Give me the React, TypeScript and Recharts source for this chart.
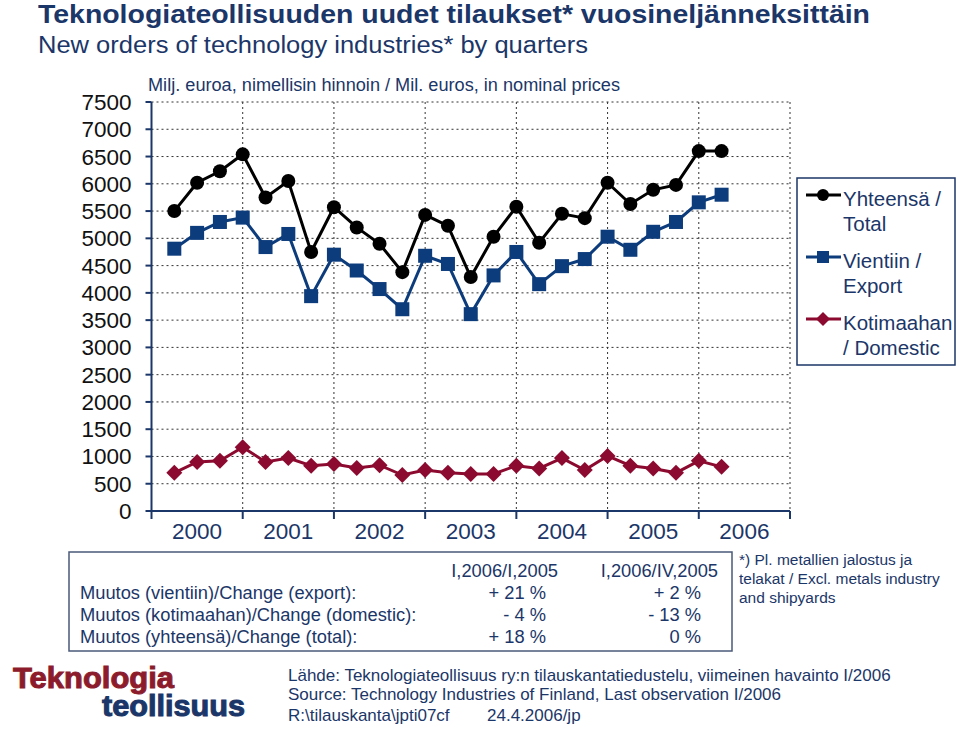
import { LineChart, Line, XAxis, YAxis, CartesianGrid } from "recharts";

// 2000 Q1 ... 2006 Q1
const quarters = [
    "2000/I", "2000/II", "2000/III", "2000/IV",
    "2001/I", "2001/II", "2001/III", "2001/IV",
    "2002/I", "2002/II", "2002/III", "2002/IV",
    "2003/I", "2003/II", "2003/III", "2003/IV",
    "2004/I", "2004/II", "2004/III", "2004/IV",
    "2005/I", "2005/II", "2005/III", "2005/IV",
    "2006/I",
];
const total = [5500, 6020, 6230, 6540, 5750, 6050, 4750, 5570, 5200, 4900, 4380, 5430, 5230, 4290, 5030, 5580, 4920, 5450, 5370, 6020, 5630, 5890, 5980, 6600, 6600];
const exportOrders = [4810, 5100, 5300, 5380, 4840, 5080, 3940, 4700, 4410, 4070, 3700, 4680, 4530, 3610, 4320, 4750, 4160, 4490, 4620, 5030, 4790, 5120, 5300, 5660, 5800];
const domestic = [700, 900, 920, 1170, 900, 970, 830, 860, 790, 840, 660, 750, 700, 680, 680, 830, 780, 970, 750, 1010, 830, 780, 700, 920, 810];

const years = ["2000", "2001", "2002", "2003", "2004", "2005", "2006"];
const yTicks = [0, 500, 1000, 1500, 2000, 2500, 3000, 3500, 4000, 4500, 5000, 5500, 6000, 6500, 7000, 7500];

const legendLabels = [
    ["Yhteensä /", "Total"],
    ["Vientiin /", "Export"],
    ["Kotimaahan", "/ Domestic"],
];
const tableHead = ["I,2006/I,2005", "I,2006/IV,2005"];
const tableRows = [
    "Muutos (vientiin)/Change (export):",
    "Muutos (kotimaahan)/Change (domestic):",
    "Muutos (yhteensä)/Change (total):",
];
const changeYoY = ["+ 21 %", "- 4 %", "+ 18 %"];
const changeQoQ = ["+ 2 %", "- 13 %", "0 %"];

const NAVY = "#1b3668";
const BLUE = "#0d3c7c";
const RED = "#8c0a2f";
const FONT = "'Liberation Sans', Arial, sans-serif";

// x = quarter number counted from start of 2000 (point sits at end of its quarter)
const data = quarters.map((q, i) => ({
    q,
    x: i + 1,
    total: total[i],
    vienti: exportOrders[i],
    koti: domestic[i],
}));

const YEAR_PX = (790 - 151.5) / 7;

function circleDot(p: any) {
    return <circle key={p.index} cx={p.cx} cy={p.cy} r={7} fill="#000" />;
}
function squareDot(p: any) {
    return <rect key={p.index} x={p.cx - 7} y={p.cy - 7} width={14} height={14} fill={BLUE} />;
}
function diamondDot(p: any) {
    const s = 8;
    return (
        <polygon
            key={p.index}
            points={`${p.cx},${p.cy - s} ${p.cx + s},${p.cy} ${p.cx},${p.cy + s} ${p.cx - s},${p.cy}`}
            fill={RED}
        />
    );
}

function YearTick(props: any) {
    const { x, y, payload } = props;
    const idx = payload.value / 4;
    if (idx >= years.length) return null;
    return (
        <text x={x + YEAR_PX / 2} y={y + 18} textAnchor="middle" fontSize={22.5} fill={NAVY} fontFamily={FONT}>
            {years[idx]}
        </text>
    );
}

function LegendMark({ i, y }: any) {
    const colors = ["#000", BLUE, RED];
    const c = colors[i];
    return (
        <g>
            <line x1={806} x2={841} y1={y} y2={y} stroke={c} strokeWidth={3} />
            {i === 0 && <circle cx={823} cy={y} r={6} fill={c} />}
            {i === 1 && <rect x={817} y={y - 6} width={12} height={12} fill={c} />}
            {i === 2 && <polygon points={`823,${y - 7} 830,${y} 823,${y + 7} 816,${y}`} fill={c} />}
        </g>
    );
}

export default function App() {
    return (
        <div style={{ position: "absolute", left: 0, top: 0, width: 960, height: 729, background: "#fff", fontFamily: FONT }}>
            <LineChart
                width={960}
                height={729}
                data={data}
                margin={{ top: 102, right: 170, bottom: 188, left: 81.5 }}
            >
                <CartesianGrid stroke="#333" strokeDasharray="2 3" />
                <XAxis
                    type="number"
                    dataKey="x"
                    domain={[0, 28]}
                    ticks={[0, 4, 8, 12, 16, 20, 24, 28]}
                    interval={0}
                    height={30}
                    tickSize={8}
                    axisLine={{ stroke: NAVY, strokeWidth: 2 }}
                    tickLine={{ stroke: NAVY, strokeWidth: 2 }}
                    tick={<YearTick />}
                />
                <YAxis
                    type="number"
                    domain={[0, 7500]}
                    ticks={yTicks}
                    interval={0}
                    width={70}
                    tickSize={6}
                    tickMargin={14}
                    axisLine={{ stroke: NAVY, strokeWidth: 2 }}
                    tickLine={{ stroke: NAVY, strokeWidth: 2 }}
                    tick={{ fontSize: 22.5, fill: "#111", fontFamily: FONT }}
                />
                <Line dataKey="koti" stroke={RED} strokeWidth={3} dot={diamondDot} isAnimationActive={false} />
                <Line dataKey="vienti" stroke={BLUE} strokeWidth={3} dot={squareDot} isAnimationActive={false} />
                <Line dataKey="total" stroke="#000" strokeWidth={3} dot={circleDot} isAnimationActive={false} />
            </LineChart>

            <svg width={960} height={729} style={{ position: "absolute", left: 0, top: 0, pointerEvents: "none" }} fontFamily={FONT}>
                <text x={38} y={23} fontSize={26.5} fontWeight="bold" fill={NAVY} textLength={832} lengthAdjust="spacingAndGlyphs">
                    Teknologiateollisuuden uudet tilaukset* vuosineljänneksittäin
                </text>
                <text x={38} y={53} fontSize={23} fill={NAVY} textLength={550} lengthAdjust="spacingAndGlyphs">
                    New orders of technology industries* by quarters
                </text>
                <text x={148} y={91} fontSize={17.5} fill={NAVY} textLength={472} lengthAdjust="spacingAndGlyphs">
                    Milj. euroa, nimellisin hinnoin / Mil. euros, in nominal prices
                </text>

                {/* legend */}
                <rect x={797} y={178} width={158} height={187} fill="#fff" stroke={NAVY} strokeWidth={1.5} />
                {legendLabels.map((lines, i) => (
                    <g key={i}>
                        <LegendMark i={i} y={195 + i * 62} />
                        <text x={843} y={206 + i * 62} fontSize={20.5} fill={NAVY}>{lines[0]}</text>
                        <text x={843} y={231 + i * 62} fontSize={20.5} fill={NAVY}>{lines[1]}</text>
                    </g>
                ))}

                {/* change table */}
                <rect x={69} y={552} width={663} height={99} fill="none" stroke="#4a5a78" strokeWidth={1.5} />
                <text x={558} y={577} fontSize={18.3} fill={NAVY} textAnchor="end">{tableHead[0]}</text>
                <text x={718} y={577} fontSize={18.3} fill={NAVY} textAnchor="end">{tableHead[1]}</text>
                {tableRows.map((r, i) => (
                    <g key={r}>
                        <text x={80} y={599 + i * 22} fontSize={18.3} fill={NAVY}>{r}</text>
                        <text x={546} y={599 + i * 22} fontSize={18.3} fill={NAVY} textAnchor="end">{changeYoY[i]}</text>
                        <text x={701} y={599 + i * 22} fontSize={18.3} fill={NAVY} textAnchor="end">{changeQoQ[i]}</text>
                    </g>
                ))}

                {/* footnote */}
                <text fontSize={15.5} fill={NAVY}>
                    <tspan x={739} y={565}>*) Pl. metallien jalostus ja</tspan>
                    <tspan x={739} y={584}>telakat / Excl. metals industry</tspan>
                    <tspan x={739} y={603}>and shipyards</tspan>
                </text>

                {/* logo */}
                <text x={13} y={688} fontSize={29} fontWeight="bold" fill="#8c1c2c" stroke="#8c1c2c" strokeWidth={1} textLength={161} lengthAdjust="spacingAndGlyphs">Teknologia</text>
                <text x={102} y={716} fontSize={29} fontWeight="bold" fill={NAVY} stroke={NAVY} strokeWidth={1} textLength={143} lengthAdjust="spacingAndGlyphs">teollisuus</text>

                {/* source */}
                <text fontSize={17} fill={NAVY}>
                    <tspan x={288} y={681}>Lähde:  Teknologiateollisuus ry:n tilauskantatiedustelu, viimeinen havainto I/2006</tspan>
                    <tspan x={288} y={700}>Source: Technology Industries of Finland, Last observation I/2006</tspan>
                    <tspan x={288} y={721}>R:\tilauskanta\jpti07cf</tspan>
                    <tspan x={487} y={721}>24.4.2006/jp</tspan>
                </text>
            </svg>
        </div>
    );
}
